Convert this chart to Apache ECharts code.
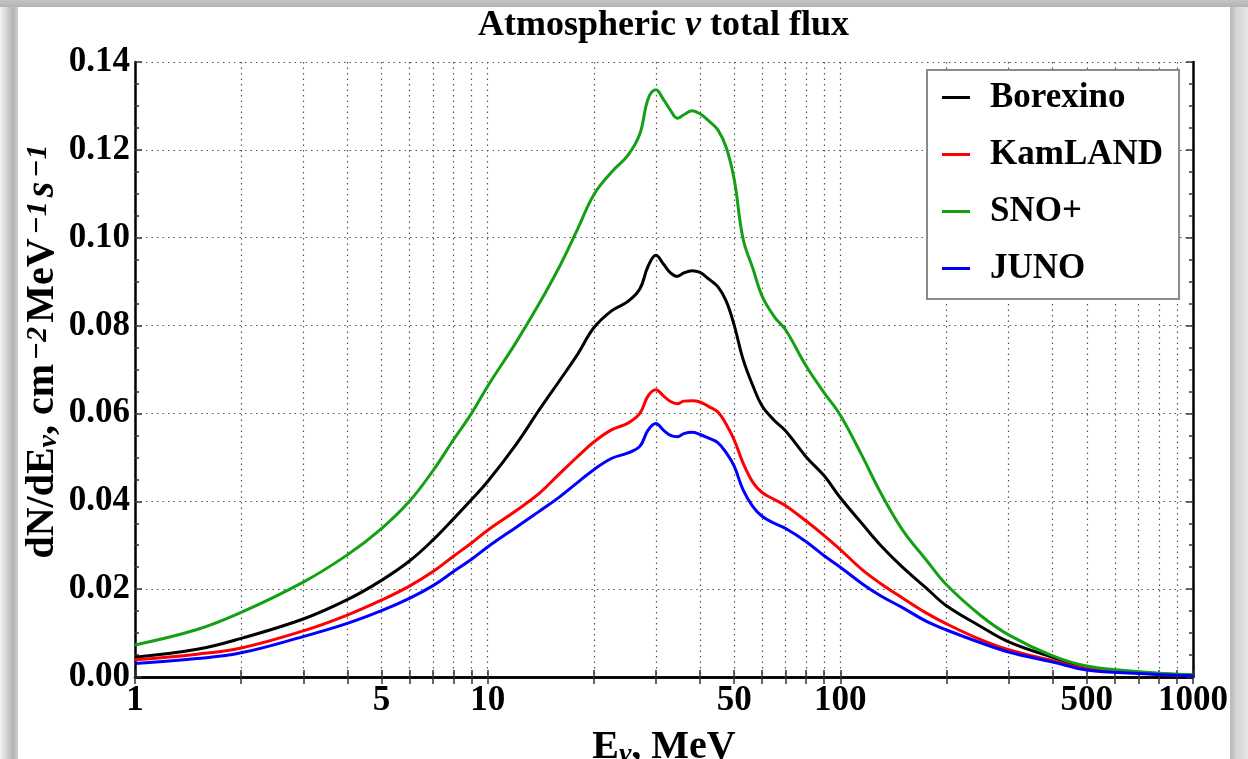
<!DOCTYPE html>
<html>
<head>
<meta charset="utf-8">
<script src="https://cdn.jsdelivr.net/npm/echarts@6/dist/echarts.min.js"></script>
<style>
  html, body { margin: 0; padding: 0; width: 1248px; height: 759px; overflow: hidden; background: #ffffff; }
  #frame { position: absolute; left: 0; top: 0; width: 1248px; height: 759px;
    background: linear-gradient(to right, #f2f2f2 0px, #d6d6d6 6px, #b4b4b4 13px, #c8c8c8 17px, #d0d0d0 18px, #d0d0d0 1229px, #b9b9b9 1231px, #d4d4d4 1236px, #e6e6e6 1248px); }
  #paper { position: absolute; left: 18px; top: 7px; width: 1212px; height: 752px; background: #ffffff; }
  #topbar { position: absolute; left: 0; top: 0; width: 1248px; height: 7px; background: linear-gradient(to bottom, #c4c4c4, #b2b2b2); }
  #chart { position: absolute; left: 0; top: 0; width: 1248px; height: 759px; }
</style>
</head>
<body>
<div id="frame"></div>
<div id="paper"></div>
<div id="topbar"></div>
<div id="chart"></div>
<script>
// ---- data ----
const energies = [1, 1.5, 2, 3, 4, 5, 6, 7, 8, 9, 10, 12, 14, 16, 18, 20, 22.5, 25, 27, 28.5, 30, 31.5, 33, 34.5, 36, 38, 40, 42.5, 45, 47.5, 50, 53, 56.5, 60, 65, 70, 80, 90, 100, 115, 130, 150, 175, 200, 250, 300, 400, 500, 700, 1000];
const borexino = [0.0045, 0.0063, 0.0088, 0.0132, 0.0176, 0.0220, 0.0264, 0.0312, 0.0360, 0.0404, 0.0445, 0.0528, 0.0608, 0.0675, 0.0735, 0.0795, 0.0834, 0.0855, 0.0883, 0.0935, 0.0960, 0.0940, 0.0920, 0.0912, 0.0920, 0.0925, 0.0921, 0.0905, 0.0888, 0.0855, 0.0801, 0.0723, 0.0663, 0.0617, 0.0584, 0.0560, 0.0501, 0.0458, 0.0408, 0.0350, 0.0300, 0.0250, 0.0203, 0.0162, 0.0115, 0.0080, 0.0045, 0.0022, 0.0010, 0.0004];
const kamland = [0.0039, 0.0052, 0.0066, 0.0105, 0.0141, 0.0175, 0.0207, 0.0240, 0.0275, 0.0305, 0.0334, 0.0378, 0.0418, 0.0463, 0.0502, 0.0535, 0.0563, 0.0578, 0.0600, 0.0640, 0.0654, 0.0640, 0.0627, 0.0622, 0.0628, 0.0629, 0.0626, 0.0615, 0.0603, 0.0575, 0.0540, 0.0487, 0.0443, 0.0420, 0.0404, 0.0390, 0.0355, 0.0322, 0.0290, 0.0245, 0.0213, 0.0180, 0.0146, 0.0121, 0.0085, 0.0062, 0.0037, 0.0019, 0.0009, 0.0003];
const snoplus = [0.0073, 0.0108, 0.0147, 0.0216, 0.0278, 0.0338, 0.0400, 0.0470, 0.0540, 0.0600, 0.0662, 0.0760, 0.0850, 0.0935, 0.1020, 0.1098, 0.1150, 0.1188, 0.1236, 0.1316, 0.1337, 0.1315, 0.1290, 0.1272, 0.1280, 0.1289, 0.1282, 0.1265, 0.1245, 0.1205, 0.1133, 0.0997, 0.0930, 0.0867, 0.0820, 0.0790, 0.0708, 0.0647, 0.0596, 0.0505, 0.0420, 0.0335, 0.0267, 0.0210, 0.0140, 0.0096, 0.0048, 0.0025, 0.0012, 0.0005];
const juno = [0.0031, 0.0042, 0.0055, 0.0092, 0.0122, 0.0151, 0.0179, 0.0208, 0.0240, 0.0268, 0.0296, 0.0340, 0.0377, 0.0410, 0.0443, 0.0472, 0.0498, 0.0510, 0.0525, 0.0562, 0.0577, 0.0562, 0.0550, 0.0547, 0.0554, 0.0557, 0.0552, 0.0543, 0.0533, 0.0510, 0.0480, 0.0426, 0.0388, 0.0366, 0.0350, 0.0338, 0.0308, 0.0276, 0.0250, 0.0213, 0.0185, 0.0158, 0.0127, 0.0107, 0.0078, 0.0057, 0.0034, 0.0016, 0.0008, 0.0003];
const seriesNames = ['Borexino', 'KamLAND', 'SNO+', 'JUNO'];
const seriesColors = ['#000000', '#ff0000', '#14a014', '#0000ff'];
const xTickValues = [1, 2, 3, 4, 5, 6, 7, 8, 9, 10, 20, 30, 40, 50, 60, 70, 80, 90, 100, 200, 300, 400, 500, 600, 700, 800, 900, 1000];
const xLabelValues = [1, 5, 10, 50, 100, 500, 1000];
const yMin = 0, yMax = 0.14, yStep = 0.02;

const FONT = '"Liberation Serif", "Times New Roman", serif';
const seriesValues = [borexino, kamland, snoplus, juno];

const chart = echarts.init(document.getElementById('chart'), null, { renderer: 'canvas' });

const gridLine = { show: true, lineStyle: { color: '#555', width: 1.2, type: [1.5, 4] } };
const axisLineStyle = { show: true, lineStyle: { color: '#000', width: 2.5 } };
const bold = (size, italic) => ({ fontFamily: FONT, fontWeight: 'bold', fontStyle: italic ? 'italic' : 'normal', fontSize: size, color: '#000' });

const option = {
  backgroundColor: 'transparent',
  animation: false,
  title: {
    text: '{a|Atmospheric }{i|ν}{a| total flux}',
    left: 473, top: 3,
    textStyle: {
      rich: {
        a: bold(36, false),
        i: bold(36, true)
      }
    }
  },
  legend: {
    orient: 'vertical',
    left: 927, top: 70,
    padding: [9, 16, 12, 15],
    itemGap: 20,
    itemWidth: 28, itemHeight: 3,
    icon: 'rect',
    borderColor: '#8a8a8a', borderWidth: 2,
    backgroundColor: '#fff',
    data: seriesNames,
    textStyle: Object.assign(bold(35, false), { padding: [0, 0, 0, 15], lineHeight: 37 })
  },
  grid: { left: 135, top: 62, right: 55, bottom: 82, outerBoundsMode: 'none', containLabel: false },
  xAxis: [{
    type: 'log', logBase: 10, min: 1, max: 1000,
    name: '{a|E}{s|ν}{a|, MeV}',
    nameLocation: 'middle', nameGap: 51, nameMoveOverlap: false,
    nameTextStyle: {
      rich: {
        a: Object.assign(bold(40, false), { lineHeight: 41, verticalAlign: 'top' }),
        s: Object.assign(bold(28, true), { lineHeight: 28, verticalAlign: 'bottom', padding: [20, 0, 0, 0] })
      }
    },
    axisLine: axisLineStyle,
    axisTick: { show: true, inside: true, length: 7, customValues: xTickValues, lineStyle: { color: '#333', width: 1.5 } },
    axisLabel: Object.assign(bold(35, false), { show: true, customValues: xLabelValues, margin: 6, formatter: v => String(v) }),
    splitLine: gridLine,
    minorTick: { show: false }, minorSplitLine: { show: false }
  }, {
    type: 'log', logBase: 10, min: 1, max: 1000, position: 'top',
    axisLine: axisLineStyle,
    axisTick: { show: true, inside: true, length: 7, customValues: xTickValues, lineStyle: { color: '#333', width: 1.5 } },
    axisLabel: { show: false },
    splitLine: { show: false }
  }],
  yAxis: [{
    type: 'value', min: yMin, max: yMax, interval: yStep,
    name: '{a|dN/dE}{s|ν}{a|, cm}{p|−2}{a|MeV}{p|−1}{i|s}{p|−1}',
    nameLocation: 'middle', nameRotate: 90, nameGap: 72, nameMoveOverlap: false,
    nameTextStyle: {
      padding: [0, 0, 0, 40],
      rich: {
        a: Object.assign(bold(40, false), { lineHeight: 40, verticalAlign: 'bottom' }),
        i: Object.assign(bold(40, true), { lineHeight: 40, verticalAlign: 'bottom' }),
        s: Object.assign(bold(28, true), { lineHeight: 28, verticalAlign: 'bottom' }),
        p: Object.assign(bold(30, true), { lineHeight: 30, verticalAlign: 'top', padding: [0, 4, 22, 4] })
      }
    },
    axisLine: axisLineStyle,
    axisTick: { show: true, inside: true, length: 7, lineStyle: { color: '#333', width: 1.5 } },
    minorTick: { show: true, splitNumber: 4, length: 4, lineStyle: { color: '#333', width: 1.5 } },
    axisLabel: Object.assign(bold(35, false), { show: true, margin: 5, formatter: v => v.toFixed(2) }),
    splitLine: gridLine
  }, {
    type: 'value', min: yMin, max: yMax, interval: yStep, position: 'right',
    axisLine: axisLineStyle,
    axisTick: { show: true, inside: true, length: 7, lineStyle: { color: '#333', width: 1.5 } },
    minorTick: { show: true, splitNumber: 4, length: 4, lineStyle: { color: '#333', width: 1.5 } },
    axisLabel: { show: false },
    splitLine: { show: false }
  }],
  series: seriesNames.map((name, k) => ({
    name: name,
    type: 'line',
    xAxisIndex: 0, yAxisIndex: 0,
    data: energies.map((e, i) => [e, seriesValues[k][i]]),
    showSymbol: false, symbol: 'none',
    smooth: 0.4,
    color: seriesColors[k],
    itemStyle: { color: seriesColors[k] },
    lineStyle: { color: seriesColors[k], width: 3 },
    z: 3
  }))
};
chart.setOption(option);
</script>
</body>
</html>
